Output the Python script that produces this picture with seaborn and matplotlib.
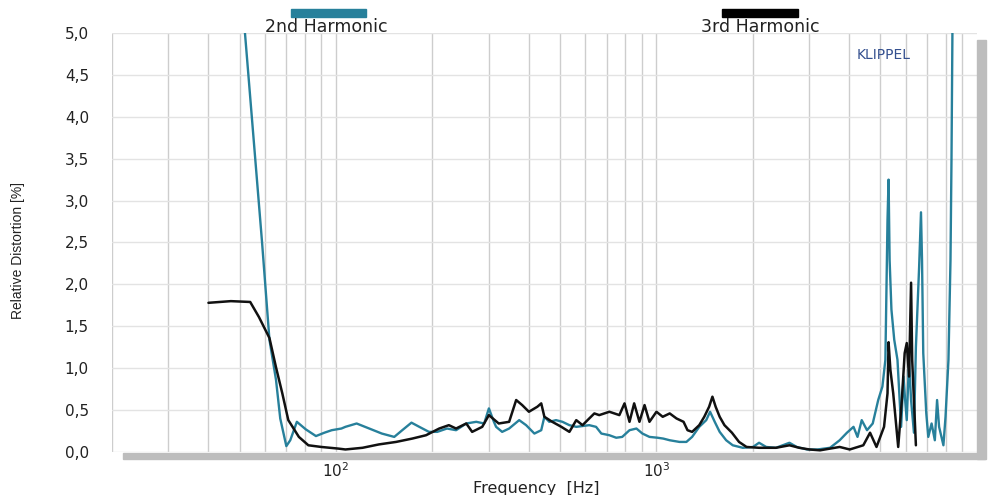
import numpy as np
import pandas as pd
import seaborn as sns
import matplotlib.pyplot as plt
from matplotlib.patches import Rectangle
from matplotlib.ticker import MultipleLocator, LogLocator, NullFormatter, FuncFormatter

# 2nd harmonic (teal), frequency in Hz, distortion in %
freq_2nd = [51.5, 52, 58.8, 62, 65, 67, 70, 72, 75.5, 80.5, 86.6, 92, 97, 104, 107,
            116, 127, 139, 152, 161, 172, 182, 195, 207, 222, 237, 255, 274, 290, 300,
            311, 316, 330, 347, 373, 392, 416, 437, 447, 463, 486, 509, 535, 562, 617,
            648, 673, 713, 749, 782, 824, 866, 904, 951, 1008, 1050, 1100, 1180, 1240,
            1292, 1360, 1430, 1470, 1520, 1575, 1650, 1730, 1860, 2000, 2090, 2200, 2360,
            2600, 2740, 2950, 3180, 3480, 3730, 3930, 4120, 4240, 4370, 4540, 4730, 4920,
            5070, 5180, 5260, 5300, 5340, 5410, 5520, 5650, 5800, 5900, 5970, 6040, 6140,
            6230, 6360, 6450, 6600, 6690, 6740, 6800, 6950, 7050, 7220, 7390, 7510, 7620,
            7860, 7980, 8150, 8270, 8330, 8400]
dist_2nd = [5.3, 5.0, 2.5, 1.34, 0.86, 0.40, 0.07, 0.14, 0.36, 0.27, 0.19, 0.23, 0.26, 0.28, 0.30,
            0.34, 0.28, 0.22, 0.18, 0.26, 0.35, 0.30, 0.24, 0.24, 0.28, 0.26, 0.34, 0.36, 0.34, 0.52,
            0.36, 0.30, 0.24, 0.28, 0.38, 0.32, 0.22, 0.26, 0.42, 0.36, 0.38, 0.36, 0.32, 0.30, 0.32,
            0.30, 0.22, 0.20, 0.17, 0.18, 0.26, 0.28, 0.22, 0.18, 0.17, 0.16, 0.14, 0.12, 0.12,
            0.18, 0.30, 0.38, 0.48, 0.36, 0.24, 0.14, 0.08, 0.05, 0.06, 0.11, 0.06, 0.05,
            0.11, 0.06, 0.03, 0.03, 0.05, 0.14, 0.23, 0.30, 0.18, 0.38, 0.26, 0.34, 0.62,
            0.78, 1.10, 2.77, 3.25, 2.29, 1.70, 1.34, 1.10, 0.30, 0.90, 0.62, 0.38, 1.10,
            0.62, 0.23, 1.25, 2.20, 2.86, 2.29, 1.18, 0.46, 0.18, 0.34, 0.14, 0.62, 0.30,
            0.08, 0.42, 1.10, 2.29, 3.50, 5.40]

# 3rd harmonic (black)
freq_3rd = [40, 47, 54, 57.5, 62, 65, 68, 71, 76.6, 82, 90, 102, 107, 121, 136, 154, 173,
            191, 210, 225, 237, 255, 266, 286, 300, 322, 347, 365, 381, 400, 425, 437, 447,
            473, 505, 535, 562, 588, 617, 640, 663, 713, 766, 795, 824, 852, 885, 918, 951,
            1000, 1046, 1100, 1155, 1215, 1250, 1292, 1360, 1410, 1460, 1495, 1530, 1575,
            1630, 1720, 1810, 1910, 2090, 2360, 2600, 2790, 3000, 3240, 3730, 4010, 4420,
            4640, 4860, 5130, 5260, 5300, 5370, 5480, 5680, 5830, 5950, 6040, 6140, 6230,
            6280, 6450]
dist_3rd = [1.78, 1.80, 1.79, 1.61, 1.36, 1.01, 0.70, 0.38, 0.18, 0.08, 0.06, 0.04, 0.03, 0.05, 0.09, 0.12, 0.16,
            0.20, 0.28, 0.32, 0.28, 0.34, 0.24, 0.30, 0.44, 0.34, 0.36, 0.62, 0.56, 0.48, 0.54, 0.58, 0.42,
            0.36, 0.30, 0.24, 0.38, 0.32, 0.40, 0.46, 0.44, 0.48, 0.44, 0.58, 0.36, 0.58, 0.36, 0.56, 0.36,
            0.48, 0.42, 0.46, 0.40, 0.36, 0.26, 0.24, 0.32, 0.42, 0.54, 0.66, 0.54, 0.42,
            0.32, 0.23, 0.12, 0.06, 0.05, 0.05, 0.08, 0.05, 0.03, 0.02, 0.06, 0.03, 0.08,
            0.23, 0.06, 0.30, 0.70, 1.31, 0.98, 0.70, 0.06, 0.62, 1.18, 1.30, 0.90, 2.02,
            1.10, 0.08]

teal = '#27809b'

sns.set_style('white')
plt.rcParams['font.family'] = ['DejaVu Sans']

df2 = pd.DataFrame({'freq': freq_2nd, 'dist': dist_2nd})
df3 = pd.DataFrame({'freq': freq_3rd, 'dist': dist_3rd})

fig = plt.figure(figsize=(9.9, 4.95), dpi=100)
ax = fig.add_axes([0.1131, 0.0869, 0.8737, 0.8465])
ax.set_xscale('log')

sns.lineplot(data=df2, x='freq', y='dist', color=teal, lw=1.7, estimator=None, sort=False, ax=ax)
sns.lineplot(data=df3, x='freq', y='dist', color='#111111', lw=1.8, estimator=None, sort=False, ax=ax)

ax.set_xlim(20, 10000)
ax.set_ylim(0, 5)

# ticks and grid
ax.set_xticks([100, 1000])
ax.xaxis.set_minor_locator(LogLocator(base=10, subs=range(2, 10)))
ax.xaxis.set_minor_formatter(NullFormatter())
ax.yaxis.set_major_locator(MultipleLocator(0.5))
ax.yaxis.set_minor_locator(MultipleLocator(0.1))
ax.yaxis.set_major_formatter(FuncFormatter(lambda v, p: f'{v:.1f}'.replace('.', ',')))

ax.grid(True, which='both', axis='x', color='#cdcdcd', lw=1.0)
ax.grid(True, which='major', axis='y', color='#e3e3e3', lw=1.0)
ax.tick_params(axis='x', which='both', length=0, pad=7, labelsize=11, colors='#222222')
ax.tick_params(axis='y', which='major', length=8.6, direction='out', color='#e3e3e3',
               pad=8, labelsize=11, labelcolor='#222222')
ax.tick_params(axis='y', which='minor', length=7, direction='in', color='#d5d5d5', width=0.8)
for s in ax.spines.values():
    s.set_visible(False)

ax.set_xlabel('Frequency  [Hz]', fontsize=11.5, color='#222222')
ax.xaxis.set_label_coords(0.491, -0.086)
ax.xaxis.label.set_va('center')
ax.set_ylabel('Relative Distortion [%]', fontsize=10, color='#222222',
              family=['Liberation Sans', 'DejaVu Sans'])
ax.yaxis.set_label_coords(-0.109, 0.482)
ax.yaxis.label.set_va('center')

ax.text(0.861, 0.947, 'KLIPPEL', transform=ax.transAxes, fontsize=10, color='#34508f',
        ha='left', va='center')

# frame shadow at bottom and right
fig.patches.append(Rectangle((0.124, 0.0727), 0.871, 0.0121, transform=fig.transFigure,
                             color='#bdbdbd', zorder=0))
fig.patches.append(Rectangle((0.987, 0.0727), 0.009, 0.846, transform=fig.transFigure,
                             color='#bdbdbd', zorder=0))

# legend bars on top
fig.patches.append(Rectangle((0.294, 0.9657), 0.0758, 0.0162, transform=fig.transFigure,
                             color=teal))
fig.patches.append(Rectangle((0.729, 0.9657), 0.0768, 0.0162, transform=fig.transFigure,
                             color='#000000'))
fig.text(0.330, 0.945, '2nd Harmonic', ha='center', va='center', fontsize=12.5, color='#222222')
fig.text(0.768, 0.945, '3rd Harmonic', ha='center', va='center', fontsize=12.5, color='#222222')

fig.savefig('out.png', dpi=100)
